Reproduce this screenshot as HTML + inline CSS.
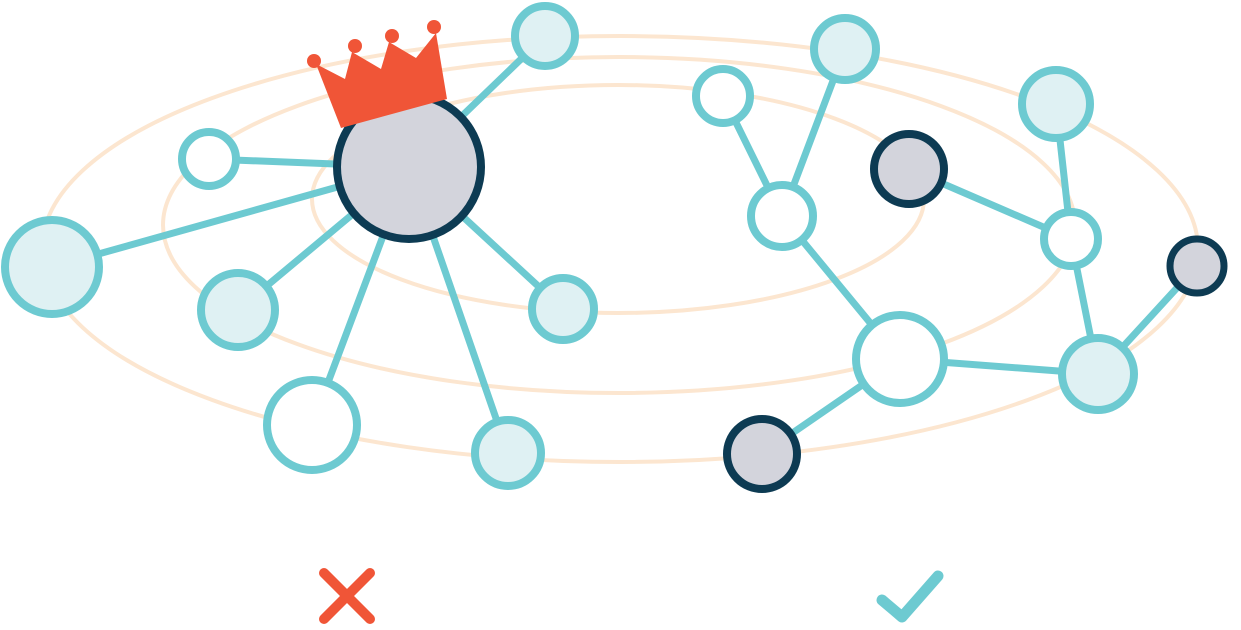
<!DOCTYPE html>
<html><head><style>html,body{margin:0;padding:0;background:#fff}svg{display:block}</style></head>
<body>
<svg width="1241" height="630" viewBox="0 0 1241 630" xmlns="http://www.w3.org/2000/svg">
<g fill="none" stroke="#fce6d0" stroke-width="4">
<ellipse cx="620" cy="249" rx="578" ry="213"/>
<ellipse cx="619" cy="225" rx="456" ry="168"/>
<ellipse cx="618" cy="199" rx="306" ry="114"/>
</g>
<g stroke="#6dcad1" stroke-width="7" stroke-linecap="round">
<line x1="409" y1="167" x2="545" y2="36"/>
<line x1="409" y1="167" x2="209" y2="159"/>
<line x1="409" y1="167" x2="52" y2="267"/>
<line x1="409" y1="167" x2="238" y2="310"/>
<line x1="409" y1="167" x2="563" y2="309"/>
<line x1="409" y1="167" x2="312" y2="425"/>
<line x1="409" y1="167" x2="508" y2="453"/>
<line x1="723" y1="96" x2="782" y2="216"/>
<line x1="845" y1="49" x2="782" y2="216"/>
<line x1="782" y1="216" x2="900" y2="359"/>
<line x1="900" y1="359" x2="762" y2="454"/>
<line x1="900" y1="359" x2="1098" y2="374"/>
<line x1="1098" y1="374" x2="1071" y2="239"/>
<line x1="1071" y1="239" x2="1056" y2="104"/>
<line x1="1071" y1="239" x2="909" y2="169"/>
<line x1="1098" y1="374" x2="1197" y2="266"/>
</g>
<g stroke="#6dcad1" stroke-width="8">
<circle cx="545" cy="36" r="30" fill="#dff1f3"/>
<circle cx="209" cy="159" r="27" fill="#fff"/>
<circle cx="52" cy="267" r="47" fill="#dff1f3"/>
<circle cx="238" cy="310" r="37" fill="#dff1f3"/>
<circle cx="563" cy="309" r="31" fill="#dff1f3"/>
<circle cx="312" cy="425" r="45" fill="#fff"/>
<circle cx="508" cy="453" r="33" fill="#dff1f3"/>
<circle cx="723" cy="96" r="27" fill="#fff"/>
<circle cx="845" cy="49" r="31" fill="#dff1f3"/>
<circle cx="1056" cy="104" r="34" fill="#dff1f3"/>
<circle cx="782" cy="216" r="31" fill="#fff"/>
<circle cx="1071" cy="239" r="27" fill="#fff"/>
<circle cx="900" cy="359" r="44" fill="#fff"/>
<circle cx="1098" cy="374" r="36" fill="#dff1f3"/>
</g>
<g stroke="#0d3b53" fill="#d3d4dc">
<circle cx="409" cy="167" r="72" stroke-width="8"/>
<circle cx="909" cy="169" r="35" stroke-width="8"/>
<circle cx="1197" cy="266" r="27" stroke-width="7"/>
<circle cx="762" cy="454" r="35" stroke-width="8"/>
</g>
<g fill="#f05537">
<polygon points="316,64 345,79 352,52 381,69 389,42 416,58 436,33 447,99 341,128"/>
<circle cx="314" cy="61" r="7"/><circle cx="355" cy="46" r="7"/><circle cx="392" cy="36" r="7"/><circle cx="434" cy="27" r="7"/>
</g>
<g stroke="#f05537" stroke-width="10" stroke-linecap="round">
<line x1="324" y1="573" x2="370" y2="619"/><line x1="370" y1="573" x2="324" y2="619"/>
</g>
<polyline points="882,600 902,617 938,576" fill="none" stroke="#6dcad1" stroke-width="11" stroke-linecap="round" stroke-linejoin="round"/>
</svg>
</body></html>
